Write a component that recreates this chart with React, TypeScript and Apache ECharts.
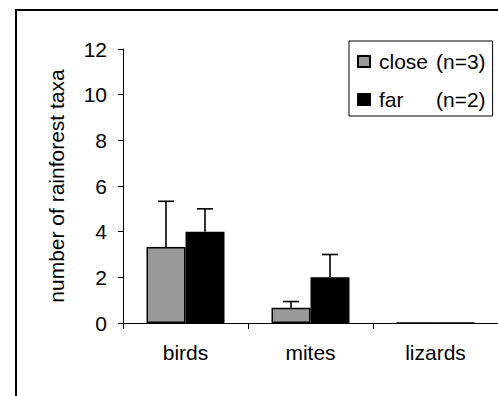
import React, { useEffect, useRef } from "react";
import * as echarts from "echarts";

const categories = ["birds", "mites", "lizards"];
const seriesNames = ["close (n=3)", "far (n=2)"];
const closeValues = [3.33, 0.67, 0];
const farValues = [4, 2, 0];
const closeErrors = [2.0, 0.27, 0];
const farErrors = [1.0, 1.0, 0];
const yTicks = { min: 0, max: 12, interval: 2 };
const yTitle = "number of rainforest taxa";

const FONT = "'Liberation Sans', Arial, sans-serif";
const FS = 21;
const BAR_WIDTH = 39;

function errorSeries(values: number[], errors: number[], offset: number) {
  return {
    type: "custom",
    silent: true,
    z: 1,
    data: values.map((v, i) => [i, v, errors[i]]),
    encode: { x: 0, y: 1 },
    renderItem: (params: any, api: any) => {
      const err = api.value(2);
      if (!err) return null;
      const base = api.coord([api.value(0), api.value(1)]);
      const top = api.coord([api.value(0), api.value(1) + err]);
      const cx = base[0] + offset;
      const style = { stroke: "#000", lineWidth: 1.6 };
      return {
        type: "group",
        children: [
          { type: "line", shape: { x1: cx, y1: base[1], x2: cx, y2: top[1] }, style },
          { type: "line", shape: { x1: cx - 8, y1: top[1], x2: cx + 8, y2: top[1] }, style },
        ],
      };
    },
  };
}

export default function App() {
  const ref = useRef<HTMLDivElement>(null);
  useEffect(() => {
    if (!ref.current) return;
    const chart = echarts.init(ref.current, undefined, { renderer: "svg" });
    chart.setOption({
      animation: false,
      backgroundColor: "#fff",
      textStyle: { fontFamily: FONT, color: "#000" },
      graphic: [
        {
          type: "rect",
          z: -10,
          shape: { x: 16, y: 10, width: 600, height: 600 },
          style: { fill: "#fff", stroke: "#000", lineWidth: 2 },
        },
      ],
      legend: {
        orient: "vertical",
        left: 349,
        top: 41,
        padding: [10, 7, 6, 8],
        itemGap: 17,
        itemWidth: 12,
        itemHeight: 11,
        backgroundColor: "#fff",
        borderColor: "#000",
        borderWidth: 1,
        borderRadius: 0,
        icon: "rect",
        data: seriesNames,
        formatter: (name: string) => {
          const idx = name.indexOf("(");
          return `{a|${name.slice(0, idx).trim()}}{b|${name.slice(idx)}}`;
        },
        textStyle: {
          fontFamily: FONT,
          fontSize: FS,
          color: "#000",
          lineHeight: 21,
          rich: {
            a: { fontFamily: FONT, fontSize: FS, color: "#000", width: 57, padding: [0, 0, 0, 4] },
            b: { fontFamily: FONT, fontSize: FS, color: "#000" },
          },
        },
      },
      grid: { left: 123, top: 49, width: 387, height: 274 },
      xAxis: {
        type: "category",
        data: categories,
        axisLine: { lineStyle: { color: "#000", width: 1 } },
        axisTick: { show: true, length: 6, lineStyle: { color: "#000" } },
        axisLabel: { fontFamily: FONT, fontSize: FS, color: "#000", margin: 19 },
      },
      yAxis: {
        type: "value",
        min: yTicks.min,
        max: yTicks.max,
        interval: yTicks.interval,
        name: yTitle,
        nameLocation: "middle",
        nameRotate: 90,
        nameGap: 56,
        nameTextStyle: { fontFamily: FONT, fontSize: FS, color: "#000" },
        axisLine: { show: true, lineStyle: { color: "#000", width: 1 } },
        axisTick: { show: true, length: 5, lineStyle: { color: "#000" } },
        splitLine: { show: false },
        axisLabel: { fontFamily: FONT, fontSize: FS, color: "#000", margin: 16 },
      },
      series: [
        {
          name: seriesNames[0],
          type: "bar",
          data: closeValues,
          barWidth: BAR_WIDTH,
          barGap: "0%",
          z: 2,
          itemStyle: { color: "#999999", borderColor: "#000", borderWidth: 1.5 },
        },
        {
          name: seriesNames[1],
          type: "bar",
          data: farValues,
          barWidth: BAR_WIDTH,
          barGap: "0%",
          z: 2,
          itemStyle: { color: "#000", borderColor: "#000", borderWidth: 1.5 },
        },
        errorSeries(closeValues, closeErrors, -BAR_WIDTH / 2),
        errorSeries(farValues, farErrors, BAR_WIDTH / 2),
      ],
    });
    return () => chart.dispose();
  }, []);
  return (
    <div
      ref={ref}
      style={{ position: "fixed", left: 0, top: 0, width: 498, height: 396 }}
    />
  );
}
